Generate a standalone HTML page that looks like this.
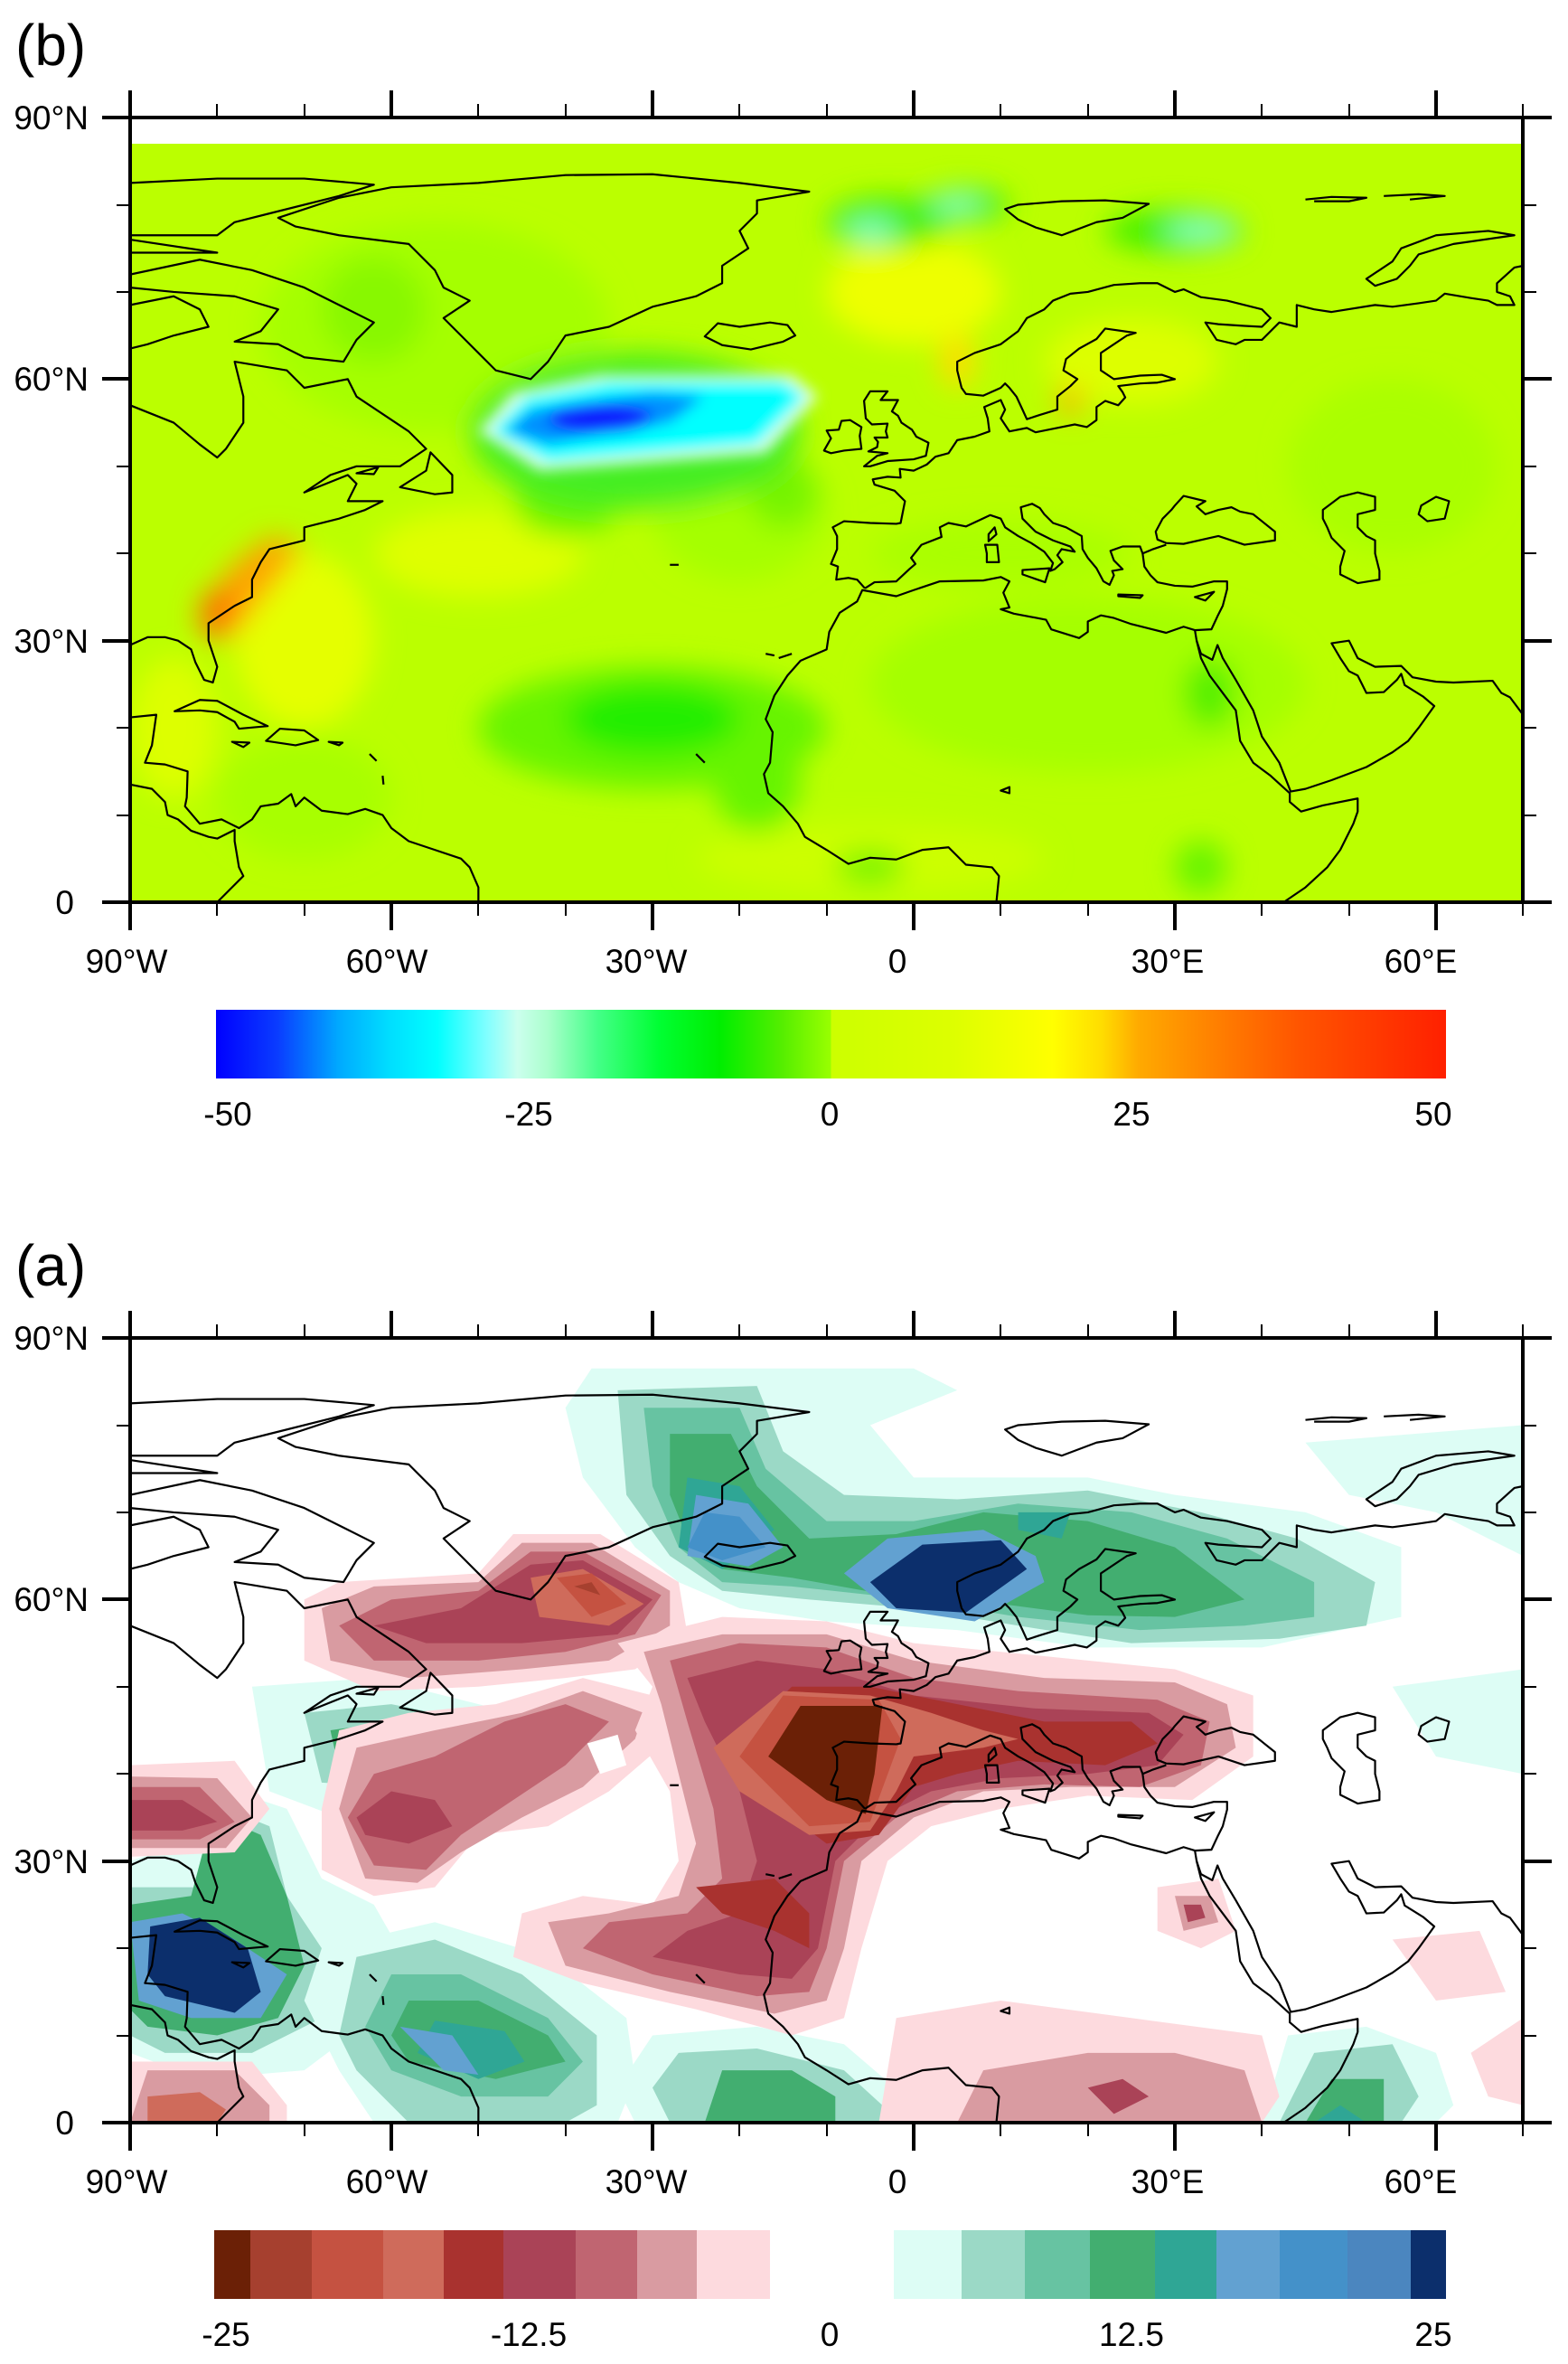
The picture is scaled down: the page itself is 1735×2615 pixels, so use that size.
<!DOCTYPE html>
<html><head><meta charset="utf-8"><style>
html,body{margin:0;padding:0;background:#fff}
svg{display:block}
text{font-family:"Liberation Sans",sans-serif;fill:#000}
</style></head><body>
<svg width="1735" height="2615" viewBox="0 0 1735 2615" xmlns="http://www.w3.org/2000/svg">
<defs>
<filter id="bl" x="-50%" y="-50%" width="200%" height="200%"><feGaussianBlur stdDeviation="1.6"/></filter>
<filter id="bl2" x="-50%" y="-50%" width="200%" height="200%"><feGaussianBlur stdDeviation="0.8"/></filter>
<clipPath id="clipT"><rect x="-90" y="0" width="160" height="87"/></clipPath>
<clipPath id="clipB"><rect x="-90" y="0" width="160" height="90"/></clipPath>
<linearGradient id="cbT" x1="0" x2="1" y1="0" y2="0">
<stop offset="0" stop-color="#0000ff"/><stop offset="0.05" stop-color="#0a3cff"/><stop offset="0.10" stop-color="#00aaff"/><stop offset="0.14" stop-color="#00ddff"/><stop offset="0.18" stop-color="#00ffff"/><stop offset="0.22" stop-color="#80ffff"/><stop offset="0.245" stop-color="#ccffee"/><stop offset="0.27" stop-color="#aaffcc"/><stop offset="0.31" stop-color="#44ff88"/><stop offset="0.36" stop-color="#00ff33"/><stop offset="0.41" stop-color="#00ee00"/><stop offset="0.46" stop-color="#55ee00"/><stop offset="0.5" stop-color="#99ff00"/><stop offset="0.5" stop-color="#ccff00"/><stop offset="0.6" stop-color="#ddff00"/><stop offset="0.68" stop-color="#ffff00"/><stop offset="0.72" stop-color="#ffdd00"/><stop offset="0.75" stop-color="#ffaa00"/><stop offset="0.80" stop-color="#ff8800"/><stop offset="0.88" stop-color="#ff5500"/><stop offset="1" stop-color="#ff2000"/>
</linearGradient>
<g id="coast" fill="none" stroke="#000" stroke-width="2.2" stroke-linejoin="round">
<polygon vector-effect="non-scaling-stroke" points="-73,78.5 -66,80.8 -60,82 -50,82.5 -40,83.4 -30,83.5 -20,82.5 -12,81.5 -18,80.5 -18,79 -20,77 -19,75 -22,73 -22,71 -25,69.5 -30,68.3 -35,66 -40,65 -42,62 -44,60 -48,61 -50,63 -52,65 -54,67 -51,69 -54,70.5 -55,72.5 -58,75.5 -66,76.5 -71,77.5"/>
<polyline vector-effect="non-scaling-stroke" points="-90,68.5 -85,69.5 -82,68 -81,66 -85,65 -88,64 -90,63.5"/>
<polyline vector-effect="non-scaling-stroke" points="-90,57 -85,55 -82,52.5 -80,51 -79,52 -77,55 -77,58 -78,62 -72,61 -70,59 -65,60 -64,58 -61,56 -58,54 -56,52 -59,50 -64,50 -67,49 -70,47 -65,49 -64,48 -65,46 -61,46 -63,45 -66,44 -70,43 -70,41.5 -74,40.5 -75,39 -76,37 -76,35 -78,34 -81,32 -81,30 -80,27 -80.5,25.2 -81.5,25.5 -82.5,27.5 -83,29 -84.5,30 -86,30.4 -88,30.4 -90,29.5"/>
<polygon vector-effect="non-scaling-stroke" points="-59,47.6 -56,49.5 -55.5,51.6 -53,49 -53,47 -55,46.8"/>
<polygon vector-effect="non-scaling-stroke" points="-64,49.2 -61.5,49.9 -62,49.1"/>
<polyline vector-effect="non-scaling-stroke" points="-90,72 -82,73.7 -76,72.5 -70,70.5 -66,68.5 -62,66.5 -64,64.5 -65.5,62 -70,62.5 -73,64 -78,64.3 -75,65.5 -73,68 -78,69.5 -85,70 -90,70.5"/>
<polyline vector-effect="non-scaling-stroke" points="-90,76.5 -80,76.5 -78,78 -74,79 -66,81 -62,82.3 -70,83 -80,83 -90,82.5"/>
<polyline vector-effect="non-scaling-stroke" points="-90,76 -80,74.5 -90,74.5"/>
<polygon vector-effect="non-scaling-stroke" points="-84.9,21.9 -82,23.2 -80,23.1 -77,21.5 -74.2,20.2 -77.5,19.9 -78,20.7 -80,21.8 -82,22"/>
<polygon vector-effect="non-scaling-stroke" points="-74.4,18.5 -72.8,19.9 -70,19.7 -68.4,18.6 -71,18"/>
<polygon vector-effect="non-scaling-stroke" points="-78.3,18.4 -76.3,18.3 -77,17.8"/>
<polygon vector-effect="non-scaling-stroke" points="-67.2,18.4 -65.6,18.3 -66,18"/>
<polyline vector-effect="non-scaling-stroke" points="-90,21.2 -87,21.5 -87.5,18 -88.3,16 -86,15.8 -83.4,15 -83.5,12 -83.7,11 -82,9 -79.5,9.5 -77.5,8.5 -76,9.5 -75,11 -73,11.3 -71.5,12.4 -71,11 -70,12 -68,10.5 -65,10.1 -63,10.7 -61,10 -60,8.5 -58,7 -55,6 -52,5 -51,4 -50,1.7 -50,0"/>
<polyline vector-effect="non-scaling-stroke" points="-90,13.5 -87.5,13 -86,11.5 -85.7,10 -84.5,9.5 -83,8.2 -81,7.5 -80,7.3 -78,8.3 -78,7 -77.5,4 -77,3 -78.5,1.5 -80,0"/>
<polyline vector-effect="non-scaling-stroke" points="9.5,0 9.8,3 9,4 6,4.3 4,6.3 1,6 -2,4.9 -5,5.1 -7.5,4.4 -10,6 -12.5,7.5 -13.3,9 -15,11 -16.7,12.5 -17.2,14.7 -16.5,16 -16.2,19.5 -17,21 -16,23.7 -14.5,26 -13,27.7 -10,29 -9.7,31 -8.5,33.2 -6.5,34.5 -5.9,35.8 -2,35.1 0,35.8 3,36.8 8,36.9 10,37.3 11,36.8 10.3,35.5 11,33.8 10,33.6 11.5,33.1 15.2,32.4 15.8,31.3 19,30.3 20,31 20,32.2 21.5,32.9 23,32.6 25,31.9 29,30.9 31,31.6 32.3,31.2 34.2,31.3 34.9,32.8 35.5,34 36,35.9 36,36.8 34.5,36.8 32,36.2 30,36.3 28,36.7 27.2,37.5 26.5,38.5 26.3,40 27.5,40.5 29,41"/>
<polygon vector-effect="non-scaling-stroke" points="29,41.2 31,41.1 35,42 38,41 41.5,41.5 41.5,42.5 39,44.5 37.5,44.8 36.5,45.3 35,45 33.5,44.5 32.5,45.4 33.5,46 31,46.6 30,45.5 29.6,45 28.6,44 27.8,42.5 28,41.6"/>
<polyline vector-effect="non-scaling-stroke" points="32.3,31.2 32.5,30 33,28.5 34.3,27.8 34.9,29.5 35.5,28 37,25.5 39,22 40,19 42,16 43.3,12.7 45,13 48,14 52,15.5 55,17.2 56.8,18.5 58,20 59.8,22.5 58.5,23.6 56.4,24.9 56,26.2 55.5,25.5 54,24.1 52,24 51.5,25 51,26 50,26.5 49,28 48,29.7 50,30 51,28 53,27 56,27.1 57.3,25.8 60,25.3 62,25.2 66.5,25.4 67.5,24 68.5,23.5 70,21.5"/>
<polyline vector-effect="non-scaling-stroke" points="32.5,30 33,28 34,26 35.5,24 37,22 37.5,18.5 39,16 41,14.5 43.2,12.5 43.2,11.5 44.5,10.4 47,11.1 51,11.9 51,10.4 50.5,9 49,6 47.5,4 45,1.7 42.5,0"/>
<polyline vector-effect="non-scaling-stroke" points="-5.6,36 -6.5,37 -7.5,37.2 -8.9,37 -8.7,38.5 -9.5,38.8 -8.8,40.5 -8.8,42 -9.3,43 -8,43.7 -5,43.5 -2,43.4 -1.5,43.5 -1.2,45 -1,46 -2.2,47.2 -4.5,47.9 -4.7,48.5 -3,48.8 -1.5,48.7 -1.6,49.7 0,49.5 1.5,50.2 2.5,51.1 4,51.5 5,53 7,53.4 8.7,54 8.5,55.5 8.1,56.8 10,57.6 10.5,56.5 10,55.5 11,54 13,54.4 14,53.9 16,54.3 18.5,54.8 19.9,54.5 21,55.3 21,56.8 22,57.5 23.5,57 24.3,57.9 24,58.5 23.5,59.2 26,59.5 28,59.6 30,60 28.5,60.5 26,60.4 23,60 21.5,61 21.5,63 24.5,65 25.5,65.3 22,65.8 21,64.6 19,63.5 17.5,62.3 17.2,61 18.8,60 18,59.2 16.5,58 16.5,56.5 14.5,55.9 13,55.4 12.5,56.5 11.8,58 11,59 10.5,59.5 10,59 8,58.1 6,58.3 5.5,59 5,61 5,62 7,63 10,64 12,65.5 13,67 15,68 16,69 18,69.8 20,70 23,70.8 26,71 28,71 30,70 31,70.3 33,69.4 36,69 40,68 41,67 40,66 38,66.1 35,66.3 33.5,66.5 34.8,64.5 37,64 38,64.5 40,64.5 42,66.5 44,66 44,68.5 46,68 48,67.7 53,68.5 55,68.3 58,68.7 60,69 61,69.8 64,69.3 66,69 67,68.5 69,68.5 68.5,69.5 67,70 67,71 69,72.8 70,73"/>
<polyline vector-effect="non-scaling-stroke" points="-5.6,36 -4.5,36.7 -2,36.8 -0.5,38.2 0.2,38.8 -0.3,39.5 0.9,41 3.2,41.9 3,43 4,43.5 6,43.1 7.5,43.8 8.8,44.4 10,44 10.5,43 12,42 13.5,41.2 15,40.2 16,38.9 15.7,38 16.2,38.2 17.1,39 16.5,39.8 17,40.5 18.5,40.2 18,40.8 16,41.5 14,42.5 12.5,44 12.3,45.3 13.6,45.7 14.5,45.2 15,44.5 16,43.5 17.5,43 19.3,42 19.4,40.5 20,39.5 21,38.3 21.8,36.8 22.5,36.4 23,37.5 22.8,38 24,38.2 23,39.2 22.6,40.3 24,40.8 26,40.8 26.3,40"/>
<polygon vector-effect="non-scaling-stroke" points="-5,50 -3,50.6 0,50.8 1.4,51.2 1.7,52.7 0.3,53.4 -0.2,54.2 -1.4,55 -1.8,55.8 -2.5,56.3 -1.8,57.6 -3.8,57.6 -3,58.6 -5,58.6 -5.7,57.5 -5.6,56.5 -5.5,55.5 -4.8,54.8 -3,54.9 -3.2,54 -3,53.3 -4.5,53.3 -4.1,52.8 -4.2,52.2 -5.2,51.7 -3,51.5 -4.2,51.2 -5.7,50"/>
<polygon vector-effect="non-scaling-stroke" points="-6,52 -6.2,53.5 -6,54.5 -7.3,55.3 -8.3,55.2 -8.6,54.2 -10,54.1 -9.5,53.2 -10.3,51.8 -9.5,51.5 -8,51.8"/>
<polygon vector-effect="non-scaling-stroke" points="-22,63.9 -24,64.9 -22.5,66.4 -20,66 -16.5,66.5 -14.5,66.2 -13.6,65 -15,64.3 -18.7,63.4"/>
<polygon vector-effect="non-scaling-stroke" points="10.5,79.5 12,80 17,80.4 22,80.5 27,80.1 24,78.5 21,78 17,76.5 14,77.4 12,78.3"/>
<polygon vector-effect="non-scaling-stroke" points="52,71.5 55,73.5 56,75 60,76.5 66,77 69,76.5 62,75.5 58,74.3 57,73 55.5,71.5 53,70.7"/>
<polyline vector-effect="non-scaling-stroke" points="45,80.6 48,80.9 52,80.8 50,80.4 46,80.4"/>
<polyline vector-effect="non-scaling-stroke" points="54,81 58,81.2 61,81 57,80.6"/>
<polygon vector-effect="non-scaling-stroke" points="47,45 49,46.5 51,47 53,46.5 53,45 51,44.5 51,43 52,42 53,41.5 53,40 53.5,38 53.5,37 51,36.6 49,37.6 49,38.5 49.5,40.3 48,41.8 47.5,43 47,44"/>
<polygon vector-effect="non-scaling-stroke" points="58.3,45.5 60,46.5 61.5,46 61,44 59,43.7 58,44.5"/>
<polygon vector-effect="non-scaling-stroke" points="12.5,38.1 15.6,38.3 15.1,36.7 12.5,37.6"/>
<polygon vector-effect="non-scaling-stroke" points="8.4,39 9.8,39 9.6,41 8.2,41 8.4,40"/>
<polygon vector-effect="non-scaling-stroke" points="8.6,41.4 9.5,42.2 9.3,43 8.6,42.2"/>
<polygon vector-effect="non-scaling-stroke" points="23.5,35.3 26.3,35.2 26,34.9 23.5,35.1"/>
<polygon vector-effect="non-scaling-stroke" points="32.3,35 34.5,35.6 33.5,34.6"/>
<polyline vector-effect="non-scaling-stroke" points="-17,28.5 -16,28.3"/><polyline vector-effect="non-scaling-stroke" points="-15.5,28 -14,28.5"/>
<polyline vector-effect="non-scaling-stroke" points="-25,17 -24,16"/><polyline vector-effect="non-scaling-stroke" points="-28,38.7 -27,38.7"/>
<polyline vector-effect="non-scaling-stroke" points="-62.5,17 -61.7,16.2"/><polyline vector-effect="non-scaling-stroke" points="-61,14.5 -60.9,13.5"/>
<polygon vector-effect="non-scaling-stroke" points="10,12.8 11,13.2 11,12.5"/>
</g>
<g id="axes" stroke="#000" fill="none">
<rect x="144" y="130" width="1541" height="868" stroke-width="4"/>
<path stroke-width="4" d="M144,100V130M433,100V130M722,100V130M1011,100V130M1300,100V130M1589,100V130M144,998V1029M433,998V1029M722,998V1029M1011,998V1029M1300,998V1029M1589,998V1029M113,130H144M113,419H144M113,709H144M113,998H144M1685,130H1717M1685,419H1717M1685,709H1717M1685,998H1717"/>
<path stroke-width="2" d="M240,115V130M337,115V130M529,115V130M626,115V130M818,115V130M915,115V130M1107,115V130M1204,115V130M1396,115V130M1493,115V130M1685,115V130M240,998V1013M337,998V1013M529,998V1013M626,998V1013M818,998V1013M915,998V1013M1107,998V1013M1204,998V1013M1396,998V1013M1493,998V1013M1685,998V1013M129,227H144M129,323H144M129,516H144M129,612H144M129,805H144M129,902H144M1685,227H1700M1685,323H1700M1685,516H1700M1685,612H1700M1685,805H1700M1685,902H1700"/>
</g>
<g id="labels" font-size="37">
<text x="98" y="143" text-anchor="end">90°N</text>
<text x="98" y="432" text-anchor="end">60°N</text>
<text x="98" y="722" text-anchor="end">30°N</text>
<text x="82" y="1011" text-anchor="end">0</text>
<text x="140" y="1076" text-anchor="middle">90°W</text>
<text x="428" y="1076" text-anchor="middle">60°W</text>
<text x="715" y="1076" text-anchor="middle">30°W</text>
<text x="993" y="1076" text-anchor="middle">0</text>
<text x="1292" y="1076" text-anchor="middle">30°E</text>
<text x="1572" y="1076" text-anchor="middle">60°E</text>
</g>
</defs>

<!-- TOP PANEL (b) -->
<text x="17" y="72" font-size="64">(b)</text>
<g transform="translate(1011,998) scale(9.633,-9.644)">
<g clip-path="url(#clipT)">
<rect x="-90" y="0" width="160" height="87" fill="#bbff00"/>
<g filter="url(#bl)">
<ellipse cx="-55" cy="66" rx="20" ry="12" fill="#a5ff00"/>
<ellipse cx="-20" cy="45" rx="10" ry="8" fill="#a5ff00"/>
<ellipse cx="20" cy="25" rx="25" ry="10" fill="#a5ff00"/>
<ellipse cx="-70" cy="12" rx="10" ry="7" fill="#a8ff00"/>
<ellipse cx="55" cy="50" rx="12" ry="10" fill="#aaff00"/>
<ellipse cx="10" cy="40" rx="15" ry="4" fill="#aaff00"/>
<ellipse cx="0" cy="70" rx="10" ry="6" fill="#eeff00"/>
<ellipse cx="-50" cy="40" rx="12" ry="5" fill="#dfff00"/>
<ellipse cx="-70" cy="30" rx="8" ry="10" fill="#e5ff00"/>
<ellipse cx="-85" cy="20" rx="5" ry="8" fill="#ddff00"/>
<ellipse cx="25" cy="62" rx="10" ry="5" fill="#ddff00"/>
<ellipse cx="-5" cy="5" rx="20" ry="4" fill="#ccff00"/>
<ellipse cx="-30" cy="20" rx="20" ry="7" fill="#66f400"/>
<ellipse cx="-18" cy="14" rx="5" ry="6" fill="#66f400"/>
<ellipse cx="-40" cy="46" rx="6" ry="4" fill="#66f400"/>
<ellipse cx="-15" cy="47" rx="4" ry="4" fill="#77f400"/>
<ellipse cx="34" cy="24" rx="3" ry="4" fill="#55f000"/>
<ellipse cx="-62" cy="68" rx="6" ry="6" fill="#88f800"/>
<ellipse cx="-5" cy="4" rx="4" ry="2" fill="#77f400"/>
<ellipse cx="33" cy="4" rx="3" ry="3" fill="#66f400"/>
<ellipse cx="-30" cy="21" rx="10" ry="4" fill="#22ee00"/>
<ellipse cx="-3" cy="78" rx="7" ry="3" fill="#44f000"/>
<ellipse cx="30" cy="77" rx="8" ry="2.5" fill="#44f000"/>
<ellipse cx="6" cy="80" rx="5" ry="2" fill="#44f000"/>
<ellipse cx="-5" cy="77" rx="3" ry="1.3" fill="#88ffcc"/>
<ellipse cx="5" cy="80" rx="3" ry="1.1" fill="#88ffcc"/>
<ellipse cx="33" cy="77" rx="4" ry="1.3" fill="#88ffcc"/>
<ellipse cx="18" cy="57.5" rx="1.5" ry="1.5" fill="#ffaa00"/>
<ellipse cx="5" cy="62" rx="2" ry="3" fill="#ffdd00"/>
<polygon points="-82,31 -79,38 -74,42 -70,41 -74,36 -78,31" fill="#ffa000"/>
<ellipse cx="-80" cy="33" rx="2" ry="3" fill="#ff7000"/>
<ellipse cx="-32" cy="54" rx="19" ry="9" fill="#44ee22"/>
</g>
<g filter="url(#bl2)">
<polygon points="-50,54 -46,58.5 -36,60.5 -14,60.5 -11,58 -17,51.5 -30,50.5 -43,49.5" fill="#ddfff0"/>
<polygon points="-48.5,54 -44.5,58 -35,59.8 -15,59.8 -12.5,58 -18,52.5 -30,51.5 -42,50.5" fill="#00ffff"/>
<polygon points="-47,54 -44,56.5 -30,58.5 -24,58 -28,55 -42,52.5" fill="#0090ff"/>
<ellipse cx="-36" cy="55.5" rx="6" ry="1.8" fill="#0820ff"/>
</g>
</g>
<use href="#coast"/>
</g>
<use href="#axes"/>
<use href="#labels"/>
<rect x="239" y="1117" width="1361" height="76" fill="url(#cbT)"/>
<g font-size="37" text-anchor="middle">
<text x="252" y="1245">-50</text><text x="585" y="1245">-25</text><text x="918" y="1245">0</text><text x="1252" y="1245">25</text><text x="1586" y="1245">50</text>
</g>

<!-- BOTTOM PANEL (a) -->
<text x="17" y="1422" font-size="64">(a)</text>
<g transform="translate(1011,2348) scale(9.633,-9.644)">
<g clip-path="url(#clipB)">
<rect x="-90" y="0" width="160" height="90" fill="#ffffff"/>
<!-- positives -->
<polygon fill="#ddfdf5" points="-37,86.5 0,86.5 5,84 -5,80 0,74 20,74 30,72 45,70 56,66 56,58 40,54.5 20,54.5 5,56.5 -10,57.5 -20,59 -27,62 -32,66 -38,74 -40,82"/>
<polygon fill="#ddfdf5" points="45,78 70,80 70,65 60,70 50,72"/>
<polygon fill="#ddfdf5" points="55,50 70,52 70,40 60,42"/>
<polygon fill="#9bd9c6" points="-34,84 -18,84.5 -15,77 -8,72 5,71.5 20,72.5 33,70 44,67 53,62 52,57 42,55.5 25,55 12,57 0,59 -12,60 -22,61 -28,65 -33,72"/>
<polygon fill="#67c3a2" points="-31,82 -20,82 -17,75 -10,69 0,69 12,71 25,70 36,67 46,62 46,58 38,57 26,56.5 12,58 0,60 -14,61.5 -22,62 -27,66 -30,73"/>
<polygon fill="#42ae70" points="-28,79 -21,79 -18,73 -12,67 -2,67.5 8,70 20,69 30,66 38,60 30,58 20,58.2 10,59.5 0,60 -14,62.5 -22,63.5 -26,67 -28,72"/>
<polygon fill="#2fa695" points="-26,74 -20,73 -16,68 -22,63.5 -27,66"/><polygon fill="#2fa695" points="12,70 18,70 17,67 12,68"/>
<polygon fill="#62a1d1" points="-25,72 -19,71 -15,66 -19,63.8 -26,65"/><polygon fill="#62a1d1" points="-8,63 -3,67 8,68 14,65 15,62 7,57.5 -3,59"/>
<polygon fill="#4491c9" points="-24,70 -20,69.5 -17,66 -22,64.5 -26,66"/>
<polygon fill="#0c2f6c" points="-5,62 1,66.3 10,66.8 13,63.5 6,58.5 -2,59"/>
<polygon fill="#ddfdf5" points="-90,30 -84,32 -78,38 -72,36 -68,28 -62,25 -58,18 -62,12 -70,6 -82,5 -90,8"/>
<polygon fill="#9bd9c6" points="-90,27 -82,27 -79,36 -74,34 -72,26 -68,20 -68,12 -76,8 -86,8 -90,10"/>
<polygon fill="#42ae70" points="-90,25 -83,26 -80.5,35.4 -75,33 -72,26 -70,18 -73,12 -80,10 -88,11 -90,13"/>
<polygon fill="#62a1d1" points="-90,23 -84,24 -78,21 -72,17 -75,12 -83,12 -89,14"/>
<polygon fill="#0c2f6c" points="-87.7,22.5 -82,23.5 -76.5,20 -75,15 -78,12.6 -86,14.5 -88,17"/>
<polygon fill="#ddfdf5" points="-76,50 -62,51 -46,47 -45,41 -52,36 -66,35 -74,38"/>
<polygon fill="#9bd9c6" points="-70,47 -60,48 -50,46 -50,41 -58,38.4 -68,39"/>
<polygon fill="#42ae70" points="-67,45 -60,46 -53,44 -57,40.5 -66,40.5"/>
<polygon fill="#ddfdf5" points="-68,20 -55,23 -42,19 -33,12 -32,5 -34,0 -62,0 -66,6 -70,14"/>
<polygon fill="#9bd9c6" points="-64,19 -55,21 -45,17 -36.4,10 -36.4,2 -40,0 -58,0 -64,6 -66,10"/>
<polygon fill="#67c3a2" points="-60,17 -52,17 -42,12 -38,7 -42,3 -52,3 -60,6 -63,11"/>
<polygon fill="#42ae70" points="-58,14 -50,14 -42,10 -40,7 -48,5 -58,7 -60,10"/>
<polygon fill="#2fa695" points="-55,11.7 -47,10.5 -44.7,7 -50,5 -57,8"/>
<polygon fill="#62a1d1" points="-59,11 -53,10 -50,5.5 -54,6"/>
<polygon fill="#ddfdf5" points="-30,10 -18,11 -8,9 -1,3 -1,0 -32,0 -34,4"/>
<polygon fill="#9bd9c6" points="-27,8 -18,8.5 -8,6 -3.6,2 -3.6,0 -28,0 -30,4"/>
<polygon fill="#42ae70" points="-22,6 -14,6 -9,3 -9,0 -24,0"/>
<polygon fill="#ddfdf5" points="40,0 43,10 52,11 60,8 62,2 60,0"/>
<polygon fill="#9bd9c6" points="42,0 46,8 55,9 58,3 56,0"/>
<polygon fill="#42ae70" points="45,0 48,5 54,5 54,0"/>
<polygon fill="#2fa695" points="46,0 49,2 52,0"/>
<!-- negatives: Labrador -->
<polygon fill="#fddade" points="-70,60 -66,62 -50,63 -46,67.5 -36,67.5 -27,62 -26,56 -32,52 -40,51 -50,50 -62,49.5 -70,53"/>
<polygon fill="#d99ba1" points="-68,59 -62,61.5 -50,62 -45,66.5 -37,66.5 -28,61 -28,57 -35,53 -45,52 -58,51 -67,53"/>
<polygon fill="#c06571" points="-66,57 -60,60 -50,61 -44,65.5 -38,65.5 -29,60.5 -32,56 -40,54 -50,53 -62,53"/>
<polygon fill="#aa4357" points="-62,57 -52,59 -44,64 -38,64.5 -30,60 -34,56 -45,55 -56,55"/>
<polygon fill="#cf6b5b" points="-44,62.5 -38,63.5 -31,59.5 -35,57 -43,58"/>
<polygon fill="#c55241" points="-41,62.5 -37,63 -33,59.5 -37,58"/>
<polygon fill="#a6402f" points="-39,61.5 -37,62 -36,60.5"/>
<!-- band + west blob -->
<polygon fill="#fddade" points="-68,36 -66,45 -58,47 -48,48 -38,51 -30,49 -28,44 -35,38 -42,34 -50,33 -55,27 -62,26 -68,29"/>
<polygon fill="#d99ba1" points="-66,36 -64,43 -55,45 -45,47 -38,49.5 -31,47 -32,44 -38,38.5 -45,35 -52,31 -57,27.5 -63,28"/>
<polygon fill="#c06571" points="-65,35 -62,40 -55,42 -47,46 -40,48 -35,46 -40,41 -46,37 -52,33 -56,29 -62,29.5"/>
<polygon fill="#aa4357" points="-64,35 -60,38 -55,37 -53,34 -58,32 -63,33"/>
<!-- main east -->
<polygon fill="#fddade" points="-34,55 -22,58 -10,57.5 0,55 15,53.5 30,52 39,49 39,42 32,37 20,37.5 10,36 2,34 -3,30 -6,20 -8,12 -14,10 -25,13 -38,16 -46,19 -45,24 -38,26 -30,25 -27,30 -28,38 -32,45 -30,50"/>
<polygon fill="#d99ba1" points="-31,54 -22,56 -10,56 0,53 15,51 30,50.5 36,48 37,43 30,38.5 18,38.5 8,38 0,35 -6,30 -8,20 -10,14 -16,12.5 -28,15 -40,18 -42,23 -35,24 -27,26 -25,32 -27,40 -29,48"/>
<polygon fill="#c06571" points="-28,53 -20,55 -10,54.5 0,51 12,49.5 28,48.5 34,46 33,41 26,38.5 15,38.8 5,38 -2,35 -8,30 -10,20 -12,15 -18,14.5 -30,17 -38,20 -35,23 -26,24 -22,28 -23,36 -26,46"/>
<polygon fill="#aa4357" points="-26,51 -18,53 -10,52 0,49 14,47.5 27,47 31,44.5 28,41 20,40 10,39.5 2,38 -4,35 -9,30 -11,20 -14,16.5 -20,17 -30,19 -26,22 -20,24 -18,30 -20,38 -24,46"/>
<polygon fill="#ffffff" points="-37.5,43.5 -34,44.5 -33,41 -36,40"/>
<polygon fill="#a9322f" points="-25,27 -16,28 -12,24 -12,20 -16,22 -22,24"/>
<polygon fill="#a9322f" points="-20,44 -14,50 -5,50 5,48 15,46 25,46 28,43.5 22,41 12,41.5 5,40 0,38.5 -4,33 -10,32 -18,38"/>
<polygon fill="#cf6b5b" points="-23,43 -15,49.5 -5,49 2,47 8,45 12,44 8,43 0,42 -2,38 -5,33.5 -12,33 -20,38"/>
<polygon fill="#c55241" points="-20,42 -15,49 -4,48.5 -1.5,44 -5,34.5 -12,34"/>
<polygon fill="#6b2006" points="-16.7,42 -13,47.8 -3.6,47.8 -4.5,40 -5.5,35.4 -10,37"/>
<!-- others -->
<polygon fill="#fddade" points="-90,41 -78,41.5 -74,36 -78,31 -90,30.5"/>
<polygon fill="#d99ba1" points="-90,39.7 -80,39.5 -76,35 -79,31.5 -90,31.5"/>
<polygon fill="#c06571" points="-90,38.5 -82,38.5 -78,34.5 -82,32.5 -90,32.5"/>
<polygon fill="#aa4357" points="-90,37 -84,37 -80,34.5 -84,33.5 -90,33.5"/>
<polygon fill="#fddade" points="-90,7 -76,7 -72,2 -72,0 -90,0"/>
<polygon fill="#d99ba1" points="-88,6 -78,6 -74,2 -74,0 -90,0"/>
<polygon fill="#cf6b5b" points="-88,3 -82,3.5 -79,1.5 -80,0 -88,0"/>
<polygon fill="#fddade" points="-2,12 10,14 25,12 40,10 42,3 40,0 -4,0"/>
<polygon fill="#d99ba1" points="8,6 20,8 30,8 38,6 40,0 5,0"/>
<polygon fill="#aa4357" points="20,4 24,5 27,3 23,1"/>
<polygon fill="#fddade" points="28,27 35,28 37,22 33,20 28,22"/>
<polygon fill="#d99ba1" points="30,26 34,26 35,23 31,22"/>
<polygon fill="#aa4357" points="31,25 33,25 33.5,23.5 31.5,23"/>
<polygon fill="#fddade" points="55,21 65,22 68,15 60,14"/>
<polygon fill="#fddade" points="64,8 70,12 70,2 66,3"/>
</g>
<use href="#coast"/>
</g>
<g transform="translate(0,1350)"><use href="#axes"/><use href="#labels"/></g>
<g>
<rect x="237" y="2467" width="41" height="76" fill="#6b2006"/>
<rect x="277" y="2467" width="69" height="76" fill="#a6402f"/>
<rect x="345" y="2467" width="80" height="76" fill="#c55241"/>
<rect x="424" y="2467" width="68" height="76" fill="#cf6b5b"/>
<rect x="491" y="2467" width="67" height="76" fill="#a9322f"/>
<rect x="557" y="2467" width="81" height="76" fill="#aa4357"/>
<rect x="637" y="2467" width="69" height="76" fill="#c06571"/>
<rect x="705" y="2467" width="67" height="76" fill="#d99ba1"/>
<rect x="771" y="2467" width="81" height="76" fill="#fddade"/>
<rect x="989" y="2467" width="76" height="76" fill="#ddfdf5"/>
<rect x="1064" y="2467" width="71" height="76" fill="#9bd9c6"/>
<rect x="1134" y="2467" width="73" height="76" fill="#67c3a2"/>
<rect x="1206" y="2467" width="73" height="76" fill="#42ae70"/>
<rect x="1278" y="2467" width="69" height="76" fill="#2fa695"/>
<rect x="1346" y="2467" width="71" height="76" fill="#62a1d1"/>
<rect x="1416" y="2467" width="76" height="76" fill="#4491c9"/>
<rect x="1491" y="2467" width="71" height="76" fill="#4b86bf"/>
<rect x="1561" y="2467" width="39" height="76" fill="#0c2f6c"/>
</g>
<g font-size="37" text-anchor="middle">
<text x="250" y="2595">-25</text><text x="585" y="2595">-12.5</text><text x="918" y="2595">0</text><text x="1252" y="2595">12.5</text><text x="1586" y="2595">25</text>
</g>
</svg>
</body></html>
